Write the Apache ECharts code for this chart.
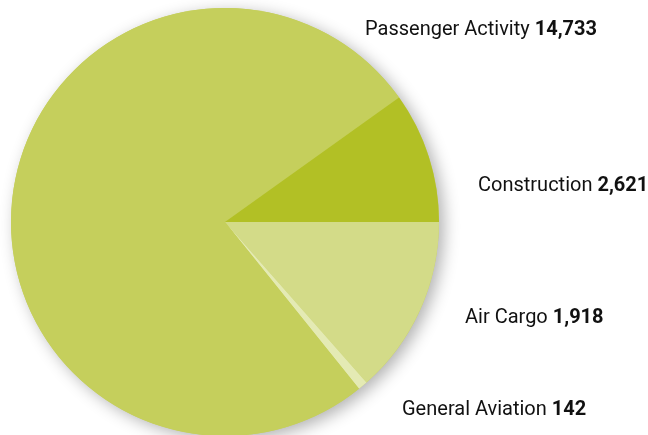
<!DOCTYPE html>
<html>
<head>
<meta charset="utf-8">
<script src="https://cdn.jsdelivr.net/npm/echarts@6/dist/echarts.min.js"></script>
<style>
  html, body { margin: 0; padding: 0; background: #fff; }
  #chart { width: 648px; height: 435px; }
</style>
</head>
<body>
<div id="chart"></div>
<script>
// slices, clockwise from 3 o'clock (order as drawn in the reference)
var names = ['Construction', 'General Aviation', 'Passenger Activity', 'Air Cargo'];
var values = [2621, 142, 14733, 1918];
var colors = ['#d3db88', '#e4eab4', '#c5cf5c', '#b2c025'];

// where each label sits (left edge, vertical middle)
var labelPos = {
    'Passenger Activity': [365, 30],
    'Construction': [478, 186],
    'Air Cargo': [465, 318],
    'General Aviation': [402, 410]
};

var font = 'Roboto, sans-serif';

var data = [];
for (var i = 0; i < names.length; i++) {
    data.push({ name: names[i], value: values[i], itemStyle: { color: colors[i] } });
}

var total = 0;
for (var j = 0; j < values.length; j++) total += values[j];

var myChart = echarts.init(document.getElementById('chart'));
myChart.setOption({
    animation: false,
    backgroundColor: '#ffffff',
    series: [
        {
            // plain disc under the slices, only to carry the soft shadow
            type: 'pie',
            silent: true,
            center: [225, 222],
            radius: 214,
            label: { show: false },
            labelLine: { show: false },
            itemStyle: {
                color: '#c5cf5c',
                shadowBlur: 16,
                shadowColor: 'rgba(0,0,0,0.3)',
                shadowOffsetX: 5,
                shadowOffsetY: 4
            },
            data: [{ name: 'all', value: total }]
        },
        {
            type: 'pie',
            center: [225, 222],
            radius: 214,
            startAngle: 0,
            clockwise: true,
            avoidLabelOverlap: false,
            emphasis: { scale: false },
            itemStyle: { borderWidth: 0 },
            labelLine: { show: false },
            label: {
                show: true,
                formatter: function (p) {
                    return '{n|' + p.name + ' }{v|' + p.value.toLocaleString('en-US') + '}';
                },
                rich: {
                    n: { fontFamily: font, fontSize: 20, color: '#111111' },
                    v: { fontFamily: font, fontSize: 20, fontWeight: 'bold', color: '#111111' }
                }
            },
            labelLayout: function (params) {
                var pos = labelPos[names[params.dataIndex]];
                return { x: pos[0], y: pos[1], align: 'left', verticalAlign: 'middle' };
            },
            data: data
        }
    ]
});
</script>
</body>
</html>
